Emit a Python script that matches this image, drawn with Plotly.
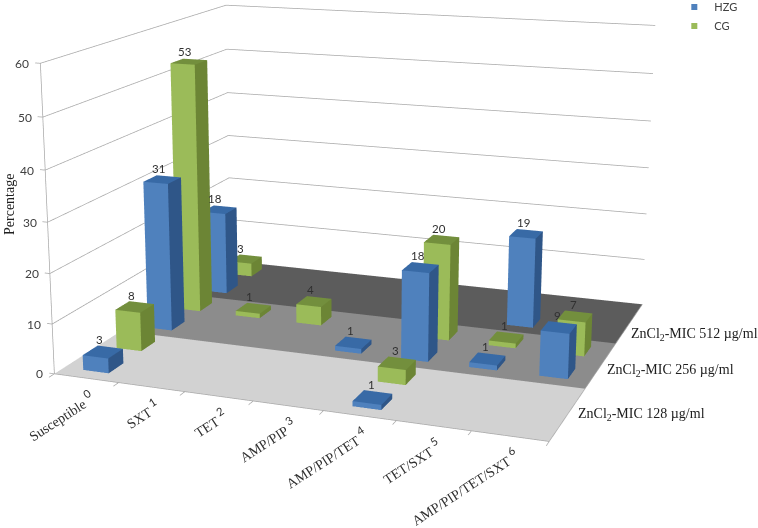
import plotly.graph_objects as go

# ---------- data ----------
categories = ["Susceptible", "SXT", "TET", "AMP/PIP", "AMP/PIP/TET", "TET/SXT", "AMP/PIP/TET/SXT"]
category_codes = [0, 1, 2, 3, 4, 5, 6]
concentrations = ["128", "256", "512"]
hzg_128 = [3, 0, 0, 0, 1, 0, 0]
cg_128 = [8, 0, 0, 0, 3, 0, 0]
hzg_256 = [31, 0, 0, 1, 18, 1, 9]
cg_256 = [53, 1, 4, 0, 20, 1, 7]
hzg_512 = [18, 0, 0, 0, 0, 19, 0]
cg_512 = [3, 0, 0, 0, 0, 0, 0]
z_ticks = [0, 10, 20, 30, 40, 50, 60]

# ---------- styles ----------
BLUE = ("#4F81BD", "#2F5688", "#386AA6")     # front, side, top
GREEN = ("#9BBB59", "#6C8535", "#738F3D")
FLOOR = ["#D2D2D2", "#8C8C8C", "#5C5C5C"]
GRID = "#A8A8A8"
SANS = "Lato"
SERIF = "Liberation Serif"
TXT = "#404040"

# oblique projection of the chart box into the scene, emulating the long lens of the original
KXY, KXZ, KYX, KYZ = 0.21035, -0.010103, 0.20486, 0.07311
CX, CY, HX, HY = 3.8311, 5.9103, 5.0, 6.5
BAR_X, BAR_Y = 0.40, 0.44


def sc(x, y, z):
    return (x + KXY * y + KXZ * z, y + KYX * x + KYZ * z, z)


def mesh_from_quads(quads, name):
    xs, ys, zs, i, j, k, cols = [], [], [], [], [], [], []
    for corners, col in quads:
        n = len(xs)
        for c in corners:
            X, Y, Z = sc(*c)
            xs.append(X)
            ys.append(Y)
            zs.append(Z)
        i += [n, n]
        j += [n + 1, n + 2]
        k += [n + 2, n + 3]
        cols += [col, col]
    return go.Mesh3d(
        x=xs, y=ys, z=zs, i=i, j=j, k=k, facecolor=cols, flatshading=True, name=name,
        lighting=dict(ambient=1, diffuse=0, specular=0, roughness=1, fresnel=0),
        hoverinfo="skip", showscale=False, showlegend=False,
    )


def bars(values, row, colors, name):
    quads = []
    for c, v in enumerate(values):
        if v <= 0:
            continue
        x0, x1 = c + 0.5 - BAR_X / 2, c + 0.5 + BAR_X / 2
        y0, y1 = row + 0.5 - BAR_Y / 2, row + 0.5 + BAR_Y / 2
        quads.append(([(x0, y0, 0), (x1, y0, 0), (x1, y0, v), (x0, y0, v)], colors[0]))
        quads.append(([(x1, y0, 0), (x1, y1, 0), (x1, y1, v), (x1, y0, v)], colors[1]))
        quads.append(([(x0, y0, v), (x1, y0, v), (x1, y1, v), (x0, y1, v)], colors[2]))
    return mesh_from_quads(quads, name)


def polyline(paths, color=GRID, width=1.5):
    xs, ys, zs = [], [], []
    for p in paths:
        for c in p:
            X, Y, Z = sc(*c)
            xs.append(X)
            ys.append(Y)
            zs.append(Z)
        xs.append(None)
        ys.append(None)
        zs.append(None)
    return go.Scatter3d(x=xs, y=ys, z=zs, mode="lines", line=dict(color=color, width=width),
                        hoverinfo="skip", showlegend=False)


nx, ny = len(categories), 2 * len(concentrations)
fig = go.Figure()

# floor bands
fig.add_trace(mesh_from_quads(
    [([(0, 2 * b, 0), (nx, 2 * b, 0), (nx, 2 * b + 2, 0), (0, 2 * b + 2, 0)], FLOOR[b]) for b in range(3)],
    "floor"))

# walls' gridlines, axes and tick marks
grid_paths = [[(0, 0, z), (0, ny, z), (nx, ny, z)] for z in z_ticks if z > 0]
axis_paths = [[(0, 0, 0), (nx, 0, 0), (nx, ny, 0)], [(0, 0, 0), (0, 0, z_ticks[-1])]]
axis_paths += [[(c, 0, 0), (c, -0.15, 0)] for c in range(nx + 1)]
axis_paths += [[(0, 0, z), (-0.08, 0, z)] for z in z_ticks]
fig.add_trace(polyline(grid_paths + axis_paths))

# bars
rows = [("HZG 128", hzg_128, BLUE), ("CG 128", cg_128, GREEN), ("HZG 256", hzg_256, BLUE),
        ("CG 256", cg_256, GREEN), ("HZG 512", hzg_512, BLUE), ("CG 512", cg_512, GREEN)]
for r, (nm, vals, cols) in enumerate(rows):
    fig.add_trace(bars(vals, r, cols, nm))

# legend entries
for nm, col in (("HZG", BLUE[0]), ("CG", GREEN[0])):
    fig.add_trace(go.Scatter3d(x=[None], y=[None], z=[None], mode="markers", name=nm,
                               marker=dict(color=col, size=6, symbol="square")))

# annotations anchored in the scene
ann = []


def put(x, y, z, text, **kw):
    X, Y, Z = sc(x, y, z)
    ann.append(dict(x=X, y=Y, z=Z, text=text, showarrow=False, **kw))


for r, (nm, vals, cols) in enumerate(rows):
    for c, v in enumerate(vals):
        if v > 0:
            put(c + 0.5, r + 0.5 + BAR_Y / 2, v, str(v), xanchor="center", yanchor="bottom",
                xshift=-10.5 + 0.9 * c, yshift=-1,
                font=dict(family=SANS, size=11.5, color="#303030"))

for z in z_ticks:
    put(0, 0, z, str(z), xanchor="right", yanchor="middle", xshift=-9,
        font=dict(family=SANS, size=12, color=TXT))

for c, (name, code) in enumerate(zip(categories, category_codes)):
    put(c + 0.5, 0, 0,
        f'{name} <span style="font-family:{SANS};font-size:16px"><sup>{code}</sup></span>',
        xanchor="right", yanchor="top", xshift=14, yshift=-5, textangle=-33,
        font=dict(family=SERIF, size=14, color="#303030"))

label_dy = [5, 4, 1]
for b, conc in enumerate(concentrations):
    put(nx, 2 * b + 1 - 0.2 * (b + 1), 0, f"ZnCl<sub>2</sub>-MIC {conc} µg/ml", xanchor="left",
        yanchor="middle", xshift=12 - 2 * b, yshift=label_dy[b],
        font=dict(family=SERIF, size=14, color="#202020"))

hidden = dict(visible=False, showgrid=False, zeroline=False, showticklabels=False,
              showbackground=False, showspikes=False)
fig.update_layout(
    width=758, height=528, margin=dict(l=0, r=0, t=0, b=0, autoexpand=False), paper_bgcolor="white",
    showlegend=True,
    legend=dict(x=0.8896, y=1.0143, xanchor="left", yanchor="top", bgcolor="rgba(0,0,0,0)",
                font=dict(family=SANS, size=11, color=TXT), itemsizing="trace",
                tracegroupgap=0, itemwidth=30),
    annotations=[dict(x=10 / 758, y=1 - 205 / 528, xref="paper", yref="paper", text="Percentage",
                      textangle=-90, showarrow=False, xanchor="center", yanchor="middle",
                      font=dict(family=SERIF, size=14, color="#202020"))],
    scene=dict(
        domain=dict(x=[0, 1], y=[0, 1]),
        xaxis=dict(range=[CX - HX, CX + HX], **hidden),
        yaxis=dict(range=[CY - HY, CY + HY], **hidden),
        zaxis=dict(range=[0, z_ticks[-1]], **hidden),
        aspectmode="manual",
        aspectratio=dict(x=1.886 * 2 * HX / 7, y=0.8433 * 2 * HY / 6, z=1),
        camera=dict(eye=dict(x=0.669, y=-2.1111, z=1.3725),
                    center=dict(x=0.1084, y=-0.1867, z=-0.2002),
                    up=dict(x=0.0037, y=0.0089, z=1),
                    projection=dict(type="perspective")),
        dragmode=False,
        annotations=ann,
    ),
)
fig.write_html("out.html", config=dict(displayModeBar=False),
               post_script="document.body.style.margin='0';")
